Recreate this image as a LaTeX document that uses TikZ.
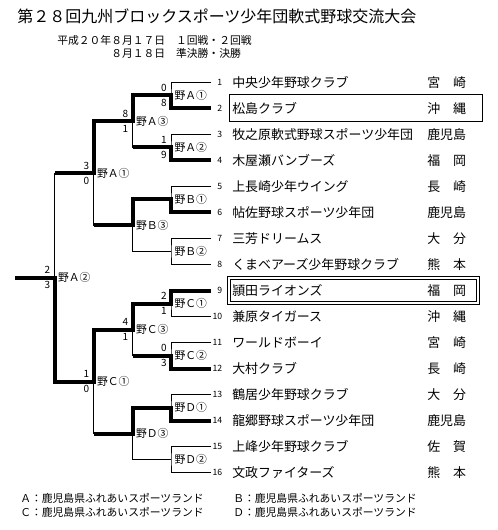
\documentclass[tikz,border=0pt]{standalone}
\usepackage{fontspec}
\newfontfamily\jp{Noto Sans CJK JP}
\usetikzlibrary{positioning}

\begin{document}
\begin{tikzpicture}[x=0.75pt,y=-0.75pt,line join=miter,
  win/.style={line width=3pt},
  lose/.style={line width=0.75pt},
  team/.style={font=\jp\fontsize{9.7}{11}\selectfont,anchor=west,inner sep=0pt},
  num/.style={font=\jp\fontsize{6.5}{7}\selectfont,anchor=east,inner sep=0pt},
  match/.style={font=\jp\fontsize{8.1}{9}\selectfont,anchor=west,inner sep=0pt,xshift=2.5pt},
  score/.style={font=\jp\fontsize{7.5}{8}\selectfont,inner sep=0pt},
  info/.style={font=\jp\fontsize{8.1}{9}\selectfont,anchor=west,inner sep=0pt}]
\useasboundingbox (0,0) rectangle (497,530);

\node[anchor=west,inner sep=0pt,font=\jp\fontsize{12}{14}\selectfont] (title) at (17,16)
   {第２８回九州ブロックスポーツ少年団軟式野球交流大会};
\node[info] (day1) at (57,40) {平成２０年８月１７日　１回戦・２回戦};
\node[info] (day2) at (111,53) {８月１８日　準決勝・決勝};

% teams
\foreach \i/\name/\pref in %
{1/中央少年野球クラブ/宮　崎,2/松島クラブ/沖　縄,3/牧之原軟式野球スポーツ少年団/鹿児島,
 4/木屋瀬バンブーズ/福　岡,5/上長崎少年ウイング/長　崎,6/帖佐野球スポーツ少年団/鹿児島,
 7/三芳ドリームス/大　分,8/くまベアーズ少年野球クラブ/熊　本,9/頴田ライオンズ/福　岡,
 10/兼原タイガース/沖　縄,11/ワールドボーイ/宮　崎,12/大村クラブ/長　崎,
 13/鶴居少年野球クラブ/大　分,14/龍郷野球スポーツ少年団/鹿児島,15/上峰少年野球クラブ/佐　賀,
 16/文政ファイターズ/熊　本} {
   \coordinate (t\i) at (211,{82.5+26*(\i-1)});
   \node[num] (n\i) at ([xshift=8.6pt]t\i) {\i};
   \node[team] (name\i) at ([xshift=15.75pt]t\i) {\name};
   \node[team] (pref\i) at ([xshift=162pt]t\i) {\pref};
}
\foreach \m/\x/\r in %
{A1/171/1.5,A2/171/3.5,B1/171/5.5,B2/171/7.5,C1/171/9.5,C2/171/11.5,D1/171/13.5,D2/171/15.5,
 A3/132.5/2.5,B3/132.5/6.5,C3/132.5/10.5,D3/132.5/14.5,AB/93.5/4.5,CD/93.5/12.5,F/54.5/8.5} {
   \coordinate (m\m) at (\x,{82.5+26*(\r-1)});
}
\coordinate (champ) at (15,{82.5+26*7.5});

% bracket
\foreach \m/\a/\b in %
{A1/t1/t2,A2/t3/t4,B1/t5/t6,B2/t7/t8,C1/t9/t10,C2/t11/t12,D1/t13/t14,D2/t15/t16,
 A3/mA1/mA2,B3/mB1/mB2,C3/mC1/mC2,D3/mD1/mD2,AB/mA3/mB3,CD/mC3/mD3,F/mAB/mCD} {
   \draw[lose] (\a) -| (m\m) |- (\b);
}
\draw[lose] (mF) -- (champ);

% winners
\draw[win] (t2) -| (mA1) -| (mA3) -| (mAB) -- (mAB -| mF);
\draw[win] (t4) -| (mA2) -- (mA2 -| mA3);
\draw[win] (t6) -| (mB1) -| (mB3) -- (mB3 -| mAB);
\draw[win] (t9) -| (mC1) -| (mC3) -| (mCD) -| (mF) -- (champ);
\draw[win] (t12) -| (mC2) -- (mC2 -| mC3);
\draw[win] (t14) -| (mD1) -| (mD3) -- (mD3 -| mCD);

\foreach \m/\fld in %
{A1/Ａ①,A2/Ａ②,A3/Ａ③,B1/Ｂ①,B2/Ｂ②,B3/Ｂ③,C1/Ｃ①,C2/Ｃ②,C3/Ｃ③,
 D1/Ｄ①,D2/Ｄ②,D3/Ｄ③,AB/Ａ①,CD/Ｃ①,F/Ａ②} {
   \node[match] (lab\m) at (m\m) {野\fld};
}
\foreach \m/\scA/\scB in {A1/0/8,A2/1/9,A3/8/1,C1/2/1,C2/0/3,C3/4/1,AB/3/0,CD/1/0,F/2/3} {
   \node[score,above left=2.5pt and 3pt of m\m] (up\m) {\scA};
   \node[score,below left=2.5pt and 3pt of m\m] (dn\m) {\scB};
}

% runner-up and winner
\draw[lose] (229,95) rectangle (482,122);
\draw[line width=0.6pt,double,double distance=1.2pt] (229,278) rectangle (478,303);

\node[info] (fA) at (20,498) {Ａ：鹿児島県ふれあいスポーツランド};
\node[info] (fB) at (233,498) {Ｂ：鹿児島県ふれあいスポーツランド};
\node[info] (fC) at (20,512.5) {Ｃ：鹿児島県ふれあいスポーツランド};
\node[info] (fD) at (233,512.5) {Ｄ：鹿児島県ふれあいスポーツランド};
\end{tikzpicture}
\end{document}
